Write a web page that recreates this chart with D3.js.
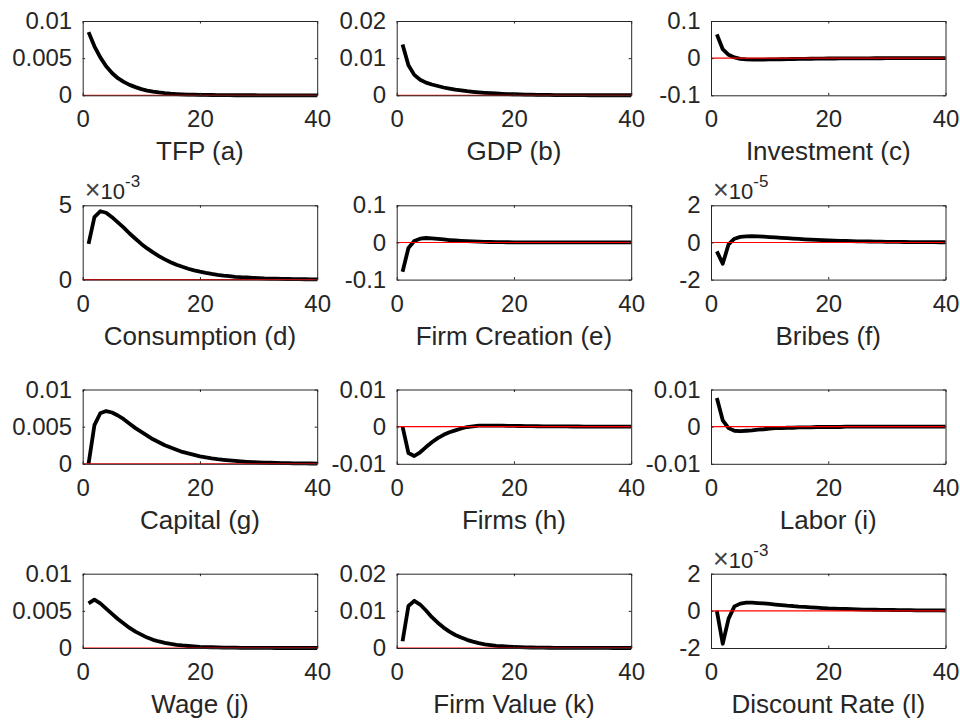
<!DOCTYPE html>
<html>
<head>
<meta charset="utf-8">
<script src="https://cdn.jsdelivr.net/npm/d3@7"></script>
<style>
  html, body { margin: 0; padding: 0; background: #fff; }
  svg { display: block; }
  text { font-family: "Liberation Sans", Arial, Helvetica, sans-serif; fill: #262626; }
</style>
</head>
<body>
<svg id="chart" width="960" height="720"></svg>
<script>
// Impulse responses, periods 1..40
const periods = [1,2,3,4,5,6,7,8,9,10,11,12,13,14,15,16,17,18,19,20,
                 21,22,23,24,25,26,27,28,29,30,31,32,33,34,35,36,37,38,39,40];

const tfp = [0.0085,0.0066,0.0051,0.0039,0.0030,0.0023,0.0018,0.0014,0.0011,0.00083,
             0.00064,0.00049,0.00038,0.00029,0.00022,0.00017,0.00013,0.00010,0.00008,0.00006,
             0.00005,0.00004,0.00003,0.00002,0.00002,0.00001,0.00001,0.00001,0.00001,0.00000,
             0,0,0,0,0,0,0,0,0,0];

const gdp = [0.0137,0.0081,0.0055,0.0042,0.0034,0.0029,0.0025,0.0021,0.0018,0.0015,
             0.0013,0.0011,0.00095,0.0008,0.00068,0.00057,0.00048,0.0004,0.00034,0.00028,
             0.00023,0.00019,0.00016,0.00013,0.00011,0.00009,0.00007,0.00006,0.00005,0.00004,
             0.00003,0.00003,0.00002,0.00002,0.00001,0.00001,0.00001,0.00001,0.00001,0.00001];

const investment = [0.064,0.024,0.009,0.002,-0.002,-0.0035,-0.004,-0.004,-0.0038,-0.0035,
                    -0.0032,-0.0029,-0.0026,-0.0023,-0.002,-0.0018,-0.0016,-0.0014,-0.0012,-0.001,
                    -0.0009,-0.0008,-0.0007,-0.0006,-0.0005,-0.0004,-0.0004,-0.0003,-0.0003,-0.0002,
                    -0.0002,-0.0002,-0.0001,-0.0001,-0.0001,-0.0001,-0.0001,0,0,0];

const consumption = [0.0024,0.0042,0.0046,0.0045,0.0042,0.00385,0.0035,0.0031,0.00275,0.0024,
                     0.0021,0.00183,0.00158,0.00136,0.00117,0.0010,0.00086,0.00073,0.00062,0.00053,
                     0.00045,0.00038,0.00032,0.00027,0.00023,0.00019,0.00016,0.00014,0.00012,0.0001,
                     0.00008,0.00007,0.00006,0.00005,0.00004,0.000035,0.00003,0.000025,0.00002,0.000017];

const firmCreation = [-0.079,-0.015,0.004,0.010,0.012,0.011,0.0095,0.008,0.0065,0.0052,
                      0.0042,0.0034,0.0027,0.0021,0.0016,0.0012,0.0009,0.0007,0.0005,0.0004,
                      0.0003,0.0002,0.0002,0.0001,0.0001,0.0001,0,0,0,0,
                      0,0,0,0,0,0,0,0,0,0];

const bribes = [-0.48e-5,-1.15e-5,-0.1e-5,0.2e-5,0.3e-5,0.33e-5,0.34e-5,0.33e-5,0.31e-5,0.29e-5,
                0.27e-5,0.25e-5,0.23e-5,0.21e-5,0.19e-5,0.17e-5,0.155e-5,0.14e-5,0.125e-5,0.11e-5,
                0.1e-5,0.09e-5,0.08e-5,0.07e-5,0.063e-5,0.056e-5,0.05e-5,0.045e-5,0.04e-5,0.035e-5,
                0.031e-5,0.028e-5,0.025e-5,0.022e-5,0.02e-5,0.018e-5,0.016e-5,0.014e-5,0.012e-5,0.011e-5];

const capital = [0,0.0052,0.0068,0.0071,0.0069,0.0065,0.006,0.0054,0.0048,0.0043,
                 0.0038,0.0033,0.0029,0.0025,0.0022,0.0019,0.0016,0.0014,0.0012,0.001,
                 0.00086,0.00073,0.00062,0.00053,0.00045,0.00038,0.00032,0.00027,0.00023,0.0002,
                 0.00017,0.00014,0.00012,0.0001,0.00008,0.00007,0.00006,0.00005,0.00004,0.00003];

const firms = [0,-0.0071,-0.0079,-0.0069,-0.0055,-0.0042,-0.0031,-0.0022,-0.0015,-0.001,
               -0.0005,-0.0001,0.0001,0.0003,0.0003,0.0003,0.0003,0.00025,0.00022,0.0002,
               0.00017,0.00015,0.00013,0.00011,0.0001,0.00008,0.00007,0.00006,0.00005,0.00004,
               0.00004,0.00003,0.00003,0.00002,0.00002,0.00002,0.00001,0.00001,0.00001,0.00001];

const labor = [0.0077,0.0017,-0.0004,-0.0011,-0.0012,-0.0011,-0.001,-0.0008,-0.0007,-0.0005,
               -0.0004,-0.0004,-0.0003,-0.0003,-0.0002,-0.0002,-0.0002,-0.0001,-0.0001,-0.0001,
               -0.0001,-0.0001,0,0,0,0,0,0,0,0,
               0,0,0,0,0,0,0,0,0,0];

const wage = [0.006,0.0065,0.006,0.0053,0.0046,0.0039,0.0033,0.0027,0.0022,0.0018,
              0.0014,0.0011,0.00088,0.0007,0.00055,0.00043,0.00034,0.00027,0.00021,0.00016,
              0.00013,0.0001,0.00008,0.00006,0.00005,0.00004,0.00003,0.00002,0.00002,0.00001,
              0.00001,0.00001,0,0,0,0,0,0,0,0];

const firmValue = [0.0018,0.0113,0.0127,0.0117,0.0101,0.0083,0.0068,0.0055,0.0044,0.0035,
                   0.0028,0.0022,0.0017,0.0013,0.001,0.0008,0.0006,0.00047,0.00037,0.0003,
                   0.00023,0.00018,0.00014,0.00011,0.00009,0.00007,0.00005,0.00004,0.00003,0.00003,
                   0.00002,0.00002,0.00001,0.00001,0.00001,0.00001,0,0,0,0];

const discountRate = [0,-0.00177,-0.00042,0.00024,0.00039,0.00044,0.00044,0.00042,0.0004,0.00037,
                      0.00034,0.00031,0.00028,0.00026,0.00023,0.00021,0.00019,0.00017,0.00015,0.00013,
                      0.00012,0.00011,0.0001,0.00009,0.00008,0.00007,0.000065,0.00006,0.000055,0.00005,
                      0.000045,0.00004,0.000037,0.000034,0.00003,0.000028,0.000026,0.000024,0.000022,0.00002];

// Axis ticks and their labels
const xTicks = [0, 20, 40];
const xTickLabels = ["0", "20", "40"];

const panels = [
  { title: "TFP (a)",           values: tfp,          ticks: [0, 0.005, 0.01],     labels: ["0", "0.005", "0.01"], exp: null },
  { title: "GDP (b)",           values: gdp,          ticks: [0, 0.01, 0.02],      labels: ["0", "0.01", "0.02"],  exp: null },
  { title: "Investment (c)",    values: investment,   ticks: [-0.1, 0, 0.1],       labels: ["-0.1", "0", "0.1"],   exp: null },
  { title: "Consumption (d)",   values: consumption,  ticks: [0, 0.005],           labels: ["0", "5"],             exp: "-3" },
  { title: "Firm Creation (e)", values: firmCreation, ticks: [-0.1, 0, 0.1],       labels: ["-0.1", "0", "0.1"],   exp: null },
  { title: "Bribes (f)",        values: bribes,       ticks: [-2e-5, 0, 2e-5],     labels: ["-2", "0", "2"],       exp: "-5" },
  { title: "Capital (g)",       values: capital,      ticks: [0, 0.005, 0.01],     labels: ["0", "0.005", "0.01"], exp: null },
  { title: "Firms (h)",         values: firms,        ticks: [-0.01, 0, 0.01],     labels: ["-0.01", "0", "0.01"], exp: null },
  { title: "Labor (i)",         values: labor,        ticks: [-0.01, 0, 0.01],     labels: ["-0.01", "0", "0.01"], exp: null },
  { title: "Wage (j)",          values: wage,         ticks: [0, 0.005, 0.01],     labels: ["0", "0.005", "0.01"], exp: null },
  { title: "Firm Value (k)",    values: firmValue,    ticks: [0, 0.01, 0.02],      labels: ["0", "0.01", "0.02"],  exp: null },
  { title: "Discount Rate (l)", values: discountRate, ticks: [-2e-3, 0, 2e-3],     labels: ["-2", "0", "2"],       exp: "-3" }
];

// Grid geometry
const colLeft = [82.7, 396.7, 711];
const rowTop = [21, 205.3, 389.5, 573.7];
const boxW = 234.5;
const boxH = 74.3;
const tickLen = 2.5;
const axisColor = "#262626";
const tickFont = 24;
const titleFont = 26;

const svg = d3.select("#chart");
svg.append("rect").attr("width", 960).attr("height", 720).attr("fill", "#fff");

panels.forEach((p, i) => {
  const col = i % 3, row = Math.floor(i / 3);
  const g = svg.append("g").attr("transform", `translate(${colLeft[col]},${rowTop[row]})`);

  const x = d3.scaleLinear().domain([0, 40]).range([0, boxW]);
  const y = d3.scaleLinear().domain([p.ticks[0], p.ticks[p.ticks.length - 1]]).range([boxH, 0]);

  // Response curve
  const line = d3.line().x((d, k) => x(periods[k])).y(d => y(d));
  g.append("path")
    .datum(p.values)
    .attr("d", line)
    .attr("fill", "none")
    .attr("stroke", "#000")
    .attr("stroke-width", 3.8)
    .attr("stroke-linejoin", "round");

  // Zero reference line
  g.append("line")
    .attr("x1", x(0)).attr("x2", x(40))
    .attr("y1", y(0)).attr("y2", y(0))
    .attr("stroke", "#ff0000")
    .attr("stroke-width", 1.1);

  // Axes with inward ticks on all four sides
  const styleAxis = sel => {
    sel.select(".domain").attr("stroke", axisColor).attr("stroke-width", 1);
    sel.selectAll(".tick line").attr("stroke", axisColor).attr("stroke-width", 1);
    sel.selectAll("text").attr("fill", axisColor).attr("font-size", tickFont)
      .attr("font-family", '"Liberation Sans", Arial, sans-serif');
  };

  g.append("g").attr("transform", `translate(0,${boxH})`)
    .call(d3.axisBottom(x).tickValues(xTicks).tickFormat((d, k) => xTickLabels[k])
      .tickSizeInner(-tickLen).tickSizeOuter(0).tickPadding(32 - 0.71 * tickFont))
    .call(styleAxis);

  g.append("g")
    .call(d3.axisTop(x).tickValues(xTicks).tickFormat("")
      .tickSizeInner(-tickLen).tickSizeOuter(0))
    .call(styleAxis);

  g.append("g")
    .call(d3.axisLeft(y).tickValues(p.ticks).tickFormat((d, k) => p.labels[k])
      .tickSizeInner(-tickLen).tickSizeOuter(0).tickPadding(10.5))
    .call(styleAxis);

  g.append("g").attr("transform", `translate(${boxW},0)`)
    .call(d3.axisRight(y).tickValues(p.ticks).tickFormat("")
      .tickSizeInner(-tickLen).tickSizeOuter(0))
    .call(styleAxis);

  // Panel label
  g.append("text")
    .attr("x", boxW / 2)
    .attr("y", boxH + 65)
    .attr("text-anchor", "middle")
    .attr("font-size", titleFont)
    .text(p.title);

  // Scale factor above the axis
  if (p.exp) {
    const t = g.append("text")
      .attr("x", 2)
      .attr("y", -6)
      .attr("font-size", 22);
    t.append("tspan").attr("font-size", 27).attr("fill", "#444").text("\u00d7");
    t.append("tspan").text("10");
    t.append("tspan").attr("dy", -12).attr("font-size", 17).text(p.exp);
  }
});
</script>
</body>
</html>
